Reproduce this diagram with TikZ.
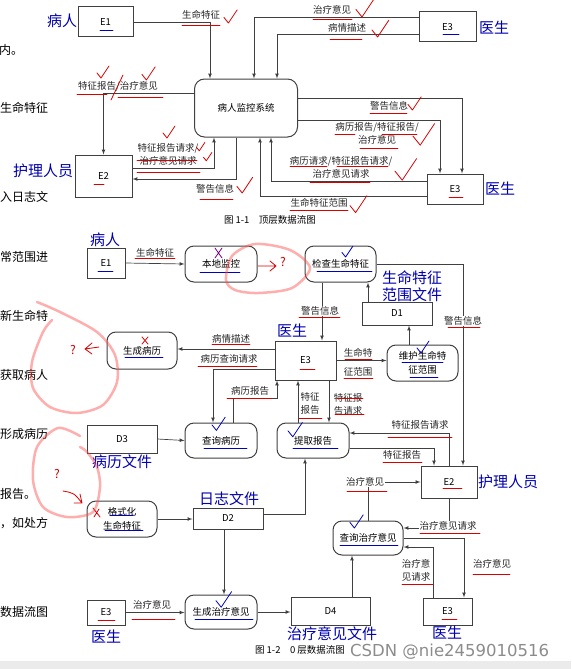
\documentclass[tikz,border=0pt]{standalone}
\usepackage{fontspec}
\setmainfont{Noto Sans CJK SC}
\newfontfamily\wmfont{DejaVu Sans}
\usetikzlibrary{arrows}

\newcommand\mktick[3]{\draw[#1] (#2) ++(-5*#3,-1*#3) -- ++(4*#3,5*#3) -- ++(8*#3,-12*#3);}

\begin{document}
\begin{tikzpicture}[x=1pt,y=-1pt,
  ent/.style={draw=black!75, line width=1pt, inner sep=0pt, fill=white, font=\fontsize{9.5}{11}\selectfont},
  proc/.style={ent, rounded corners=9pt, align=center, font=\fontsize{9.5}{14}\selectfont},
  lbl/.style={inner sep=1pt, align=center, text=black!85, font=\fontsize{9.5}{13}\selectfont},
  wlbl/.style={lbl, fill=white},
  who/.style={inner sep=0pt, align=center, text=blue!70!black, font=\fontsize{15}{17}\selectfont},
  pagetxt/.style={anchor=west, inner sep=0pt, font=\fontsize{12}{12}\selectfont},
  flow/.style={draw=black!75, line width=0.7pt, -latex},
  redpen/.style={draw=red!85!black, line width=0.8pt, line cap=round, line join=round},
  bluepen/.style={draw=blue!75!black, line width=0.8pt, line cap=round, line join=round},
  redloop/.style={draw=red!70, line width=2.5pt, opacity=0.45, line cap=round}
]
\useasboundingbox (0,0) rectangle (571,669);

% page text behind the figures
\node[pagetxt] (p1) at (-1,50) {内。};
\node[pagetxt] (p2) at (0,108) {生命特征};
\node[pagetxt] (p3) at (0,197) {入日志文};
\node[pagetxt] (p4) at (0,257) {常范围进};
\node[pagetxt] (p5) at (0,316) {新生命特};
\node[pagetxt] (p6) at (0,375) {获取病人};
\node[pagetxt] (p7) at (0,434) {形成病历};
\node[pagetxt] (p8) at (0,494) {报告。};
\node[pagetxt] (p9) at (0,523) {，如处方};
\node[pagetxt] (p10) at (0,612) {数据流图};

% figure 1-1
\node[ent, minimum width=55, minimum height=30] (e1a) at (105.5,22) {E1};
\node[ent, rounded corners=10pt, minimum width=103, minimum height=58] (sys) at (246,108) {病人监控系统};
\node[ent, minimum width=57, minimum height=30] (e3a) at (447.5,27) {E3};
\node[ent, minimum width=57, minimum height=42] (e2a) at (103.5,176) {E2};
\node[ent, minimum width=56, minimum height=30] (e3b) at (455,189) {E3};

\draw[flow] (e1a.east) -| ([xshift=-36pt]sys.north);
\draw[flow] ([yshift=10pt]e3a.west) -| ([xshift=8pt]sys.north);
\draw[flow] ([yshift=-7pt]e3a.west) -| ([xshift=31pt]sys.north);
\draw[flow] ([yshift=15pt]sys.west) -| (e2a.north);
\draw[flow] ([yshift=8pt]e2a.east) -| ([xshift=-32pt]sys.south);
\draw[flow] ([xshift=-10pt]sys.south) |- ([yshift=-3pt]e2a.east);
\draw[flow] ([yshift=10pt]sys.east) -| ([xshift=7pt]e3b.north);
\draw[flow] ([yshift=-12pt]sys.east) -| ([xshift=-15pt]e3b.north);
\draw[flow] ([yshift=8pt]e3b.west) -| ([xshift=25pt]sys.south);
\draw[flow] ([yshift=-7pt]e3b.west) -| ([xshift=14pt]sys.south);

\node[lbl] (t1) at (201,15) {生命特征};
\node[lbl] (t2) at (332,10) {治疗意见};
\node[lbl] (t3) at (347,28) {病情描述};
\node[lbl] (t4) at (118,86) {特征报告/治疗意见};
\node[lbl] (t5) at (168,154) {特征报告请求/\\治疗意见请求};
\node[lbl] (t6) at (215,189) {警告信息};
\node[lbl] (t7) at (389,106) {警告信息};
\node[lbl] (t8) at (377,133) {病历报告/特征报告/\\治疗意见};
\node[lbl] (t9) at (341,167) {病历请求/特征报告请求/\\治疗意见请求};
\node[lbl] (t10) at (319,203) {生命特征范围};
\node[lbl, text=black] (cap1) at (270,220) {图 1-1\quad 顶层数据流图};

\node[who] (w1) at (62,21) {病人};
\node[who] (w2) at (494,28) {医生};
\node[who] (w3) at (43,171) {护理人员};
\node[who] (w4) at (500,189) {医生};

% figure 1-2
\node[ent, minimum width=38, minimum height=30] (e1b) at (106,263) {E1};
\node[proc, minimum width=72, minimum height=36] (local) at (221,264) {本地监控};
\node[proc, minimum width=71, minimum height=36] (check) at (340.5,264) {检查生命特征};
\node[ent, minimum width=70, minimum height=23] (d1) at (397,313.5) {D1};
\node[ent, minimum width=61, minimum height=39] (e3m) at (305.5,360.5) {E3};
\node[proc, minimum width=71, minimum height=36] (maint) at (422.5,363) {维护生命特\\征范围};
\node[proc, minimum width=70, minimum height=37] (ill) at (142,350.5) {生成病历};
\node[ent, minimum width=70, minimum height=28] (d3) at (122,439) {D3};
\node[proc, minimum width=72, minimum height=35] (qrec) at (221,440.5) {查询病历};
\node[proc, minimum width=72, minimum height=35] (extr) at (313,440.5) {提取报告};
\node[ent, minimum width=56, minimum height=32] (e2b) at (449,482) {E2};
\node[proc, minimum width=70, minimum height=36] (fmt) at (122,519) {格式化\\生命特征};
\node[ent, minimum width=70, minimum height=21] (d2) at (228,518.5) {D2};
\node[proc, minimum width=70, minimum height=34] (qadv) at (368,538) {查询治疗意见};
\node[ent, minimum width=38, minimum height=25] (e3l) at (106,612.5) {E3};
\node[proc, minimum width=72, minimum height=34] (gen) at (221,612) {生成治疗意见};
\node[ent, minimum width=79, minimum height=28] (d4) at (330.5,611) {D4};
\node[ent, minimum width=49, minimum height=27] (e3r) at (447.5,611.5) {E3};

\coordinate (c1) at ([xshift=-18.5pt]check.south);
\coordinate (c2) at ([xshift=-29pt]d1.north);
\coordinate (c3) at ([xshift=-13.5pt]maint.north);
\coordinate (c4) at ([xshift=-15pt]extr.north);
\coordinate (c5) at ([xshift=23.5pt]e3m.south);
\coordinate (c6) at ([xshift=-4pt]d2.south);
\coordinate (c7) at ([xshift=21.5pt]d4.north);

\draw[flow] (e1b.east) -- (local.west);
\draw[flow] (check.east) -| ([xshift=14pt]e2b.north);
\draw[flow] (c1) -- (c1 |- e3m.north);
\draw[flow] (c2) -- (c2 |- check.south);
\draw[flow] (c3) -- (c3 |- d1.south);
\draw[flow] (e3m.east) -- (e3m.east -| maint.west);
\draw[flow] ([yshift=11.5pt]e3m.west) -- ([yshift=11.5pt]e3m.west -| ill.east);
\draw[flow] ([yshift=-8.5pt]e3m.west) -| ([xshift=-8pt]qrec.north);
\draw[flow] ([xshift=12pt]qrec.north) -- ++(0,-24) -| ([xshift=-28.5pt]e3m.south);
\draw[flow] (c4) -- (c4 |- e3m.south);
\draw[flow] (c5) -- (c5 |- extr.north);
\draw[flow] (e2b.north) |- ([yshift=7.5pt]extr.east);
\draw[flow] ([yshift=-7.5pt]extr.east) -| ([xshift=-15pt]e2b.north);
\draw[flow] ([yshift=4pt]d2.east) -| ([xshift=-8pt]extr.south);
\draw[flow] (d3.east) -- (qrec.west);
\draw[flow] (fmt.east) -- (fmt.east -| d2.west);
\draw[flow] (c6) -- (c6 |- gen.north);
\draw[flow] (e3l.east) -- (e3l.east -| gen.west);
\draw[flow] (gen.east) -- (gen.east -| d4.west);
\draw[flow] (c7) -- (c7 |- qadv.south);
\draw[flow] (qadv.north) |- (e2b.west);
\draw[flow] (e2b.south) |- ([yshift=10pt]qadv.east);
\draw[flow] (qadv.east) -| ([xshift=16.5pt]e3r.north);
\draw[flow] ([xshift=-14.5pt]e3r.north) |- ([yshift=-9pt]qadv.east);

\node[lbl] (b1) at (155,253) {生命特征};
\node[wlbl] (b2) at (320,311) {警告信息};
\node[wlbl] (b3) at (463,321) {警告信息};
\node[lbl, font=\fontsize{9.5}{19}\selectfont] (b4) at (358,362) {生命特\\征范围};
\node[lbl] (b5) at (231,339) {病情描述};
\node[lbl] (b6) at (229,359) {病历查询请求};
\node[lbl] (b7) at (250,391) {病历报告};
\node[lbl] (b8) at (310,403.5) {特征\\报告};
\node[lbl] (b9) at (348,404) {特征报\\告请求};
\node[lbl] (b10) at (420,425) {特征报告请求};
\node[lbl] (b11) at (402,455) {特征报告};
\node[wlbl] (b12) at (365,482) {治疗意见};
\node[wlbl] (b13) at (448,526) {治疗意见请求};
\node[lbl] (b14) at (492,564) {治疗意见};
\node[lbl] (b15) at (416,570) {治疗意\\见请求};
\node[lbl] (b16) at (152,605) {治疗意见};
\node[lbl, text=black] (cap2) at (300,650) {图 1-2\quad 0 层数据流图};

\node[who] (w5) at (105,240) {病人};
\node[who] (w6) at (412,286.5) {生命特征\\范围文件};
\node[who] (w7) at (292,331) {医生};
\node[who] (w8) at (122,462) {病历文件};
\node[who] (w9) at (229,499) {日志文件};
\node[who] (w10) at (508,482) {护理人员};
\node[who] (w11) at (106,637) {医生};
\node[who] (w12) at (332,634) {治疗意见文件};
\node[who] (w13) at (447,633) {医生};

% pen marks
\foreach \a/\b/\c in {182/220/25, 77/107/94, 118/163/97, 137/197/160, 137/200/172, 200/233/199,
  313/352/19, 330/362/39, 370/407/113, 335/355/134, 382/417/134, 360/398/148, 290/327/166,
  337/388/166, 310/370/182, 290/348/210, 94/104/184, 449/463/197,
  135/175/258, 212/250/344, 198/257/366, 227/272/398, 299/340/317, 448/480/327, 345/372/359,
  344/373/378, 299/322/418, 337/363/398, 335/364/414, 388/452/437, 383/422/462, 347/387/491,
  420/480/533, 473/510/574, 402/433/584, 132/175/619, 300/315/369, 443/462/488, 98/115/620, 442/457/619}
  \draw[redpen] (\a,\c) -- (\b,\c);
\foreach \a/\b/\c in {100/113/30, 443/459/34, 98/113/271, 200/240/272, 317/372/271, 125/163/357,
  402/443/362, 410/438/377, 204/247/448, 293/338/448, 110/133/515, 105/143/530, 195/253/619, 340/398/545}
  \draw[bluepen] (\a,\c) -- (\b,\c);

\mktick{redpen}{229.5,18.6}{1.1}
\mktick{redpen}{102,74}{1}
\mktick{redpen}{147.5,75.6}{1.1}
\mktick{redpen}{168,134}{1}
\mktick{redpen}{200,148}{0.7}
\mktick{redpen}{207,158}{0.7}
\mktick{redpen}{243.5,187.8}{1.3}
\mktick{redpen}{363.5,11}{1.5}
\mktick{redpen}{379,31.4}{1.4}
\mktick{redpen}{413.5,105.6}{1.1}
\mktick{redpen}{422,138}{1.8}
\mktick{redpen}{404,173}{1.8}
\mktick{redpen}{357,207}{1.4}
\mktick{bluepen}{346.5,253.4}{0.9}
\mktick{bluepen}{422,349}{1}
\mktick{bluepen}{217.5,426}{1.1}
\mktick{bluepen}{294,432}{1.2}
\mktick{bluepen}{222.5,602}{1.3}
\mktick{bluepen}{355.5,523.6}{1.1}
\draw[redpen] (123,75) -- (111,100);
\draw[redpen, draw=violet] (215,248) -- (222,258) (222,248) -- (215,258);
\draw[redpen] (142,337) -- (148,344) (148,337) -- (142,344);
\draw[redpen] (93,508) -- (100,517) (99,509) -- (94,517);

\draw[redloop] plot[smooth cycle] coordinates {(226,280) (232,256) (255,244) (290,250) (310,268) (292,288) (258,293) (235,290)};
\draw[redloop] plot[smooth] coordinates {(37,302) (60,312) (97,332) (115,355) (117,382) (103,405) (77,413) (50,407) (33,388) (32,362) (43,332) (52,320)};
\draw[redloop] plot[smooth] coordinates {(80,436) (58,428) (37,447) (33,480) (43,507) (67,517) (93,512) (100,487) (97,467) (87,452) (80,447)};

\node[text=red!80!black, font=\fontsize{12}{12}\selectfont] (q1) at (283,262) {?};
\draw[redpen] (258,266) -- (276,266) (270,261) -- (276,266) -- (270,271);
\node[text=red!80!black, font=\fontsize{12}{12}\selectfont] (q2) at (73,350) {?};
\draw[redpen] (85,349) -- (99,347) (92,343) -- (85,349) -- (92,354);
\node[text=red!80!black, font=\fontsize{12}{12}\selectfont] (q3) at (57,474) {?};
\draw[redpen] (63,491) .. controls (74,493) .. (82,503) (74,503) -- (82,503) -- (80,494);

\fill[black!8] (0,661) rectangle (571,669);
\node[anchor=west, inner sep=0pt, text=black!45, font=\wmfont\fontsize{16.5}{18}\selectfont] (wm) at (350,652) {CSDN @nie2459010516};
\end{tikzpicture}
\end{document}
